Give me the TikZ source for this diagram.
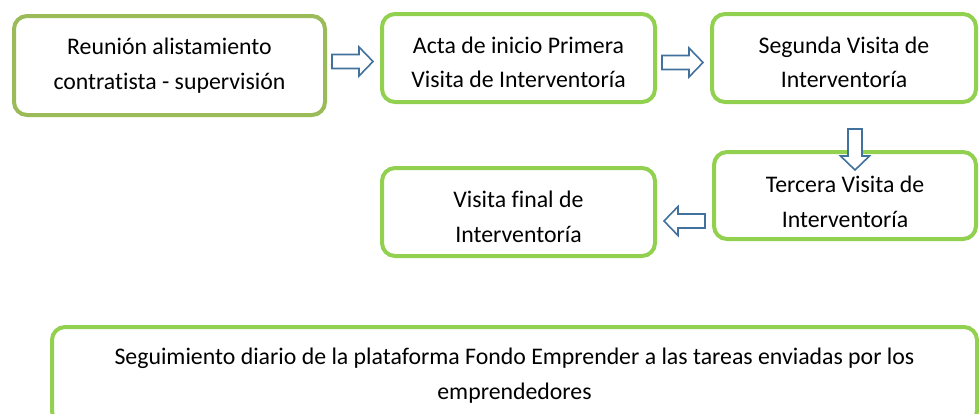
\documentclass[tikz,border=0pt]{standalone}
\usepackage{fontspec}
\setmainfont{Carlito}[Ligatures=NoCommon]
\definecolor{olivegreen}{RGB}{155,187,89}
\definecolor{lightgreen}{RGB}{146,208,80}
\definecolor{arrowblue}{RGB}{65,113,156}
\tikzset{
  stagebox/.style={draw=lightgreen, line width=4pt, rounded corners=13pt, align=center,
    inner sep=0pt, font=\fontsize{23.8}{34.5}\selectfont},
  lowtext/.style={text height=#1, text depth=6pt},
  arrowline/.style={draw=arrowblue, line width=1.6pt, fill=white, line join=miter},
  blockarrow/.pic={
    \draw[arrowline] (0,-7) -- (27,-7) -- (27,-14.5) -- (41,0) -- (27,14.5) -- (27,7) -- (0,7) -- cycle;
  }
}
\begin{document}
\begin{tikzpicture}[x=1pt, y=-1pt]
    \useasboundingbox (0,0) rectangle (979,413);
    \clip (0,0) rectangle (979,413);

    \node[stagebox, draw=olivegreen, minimum width=311pt, minimum height=99pt] (reunion) at (169.5,65.5)
        {Reunión alistamiento\\contratista - supervisión};
    \node[stagebox, lowtext=65pt, minimum width=273pt, minimum height=88pt] (acta) at (518.5,58)
        {Acta de inicio Primera\\Visita de Interventoría};
    \node[stagebox, lowtext=65pt, minimum width=264pt, minimum height=88pt] (segunda) at (844,58)
        {Segunda Visita de\\Interventoría};
    \node[stagebox, lowtext=69pt, minimum width=262pt, minimum height=87pt] (tercera) at (845,195.5)
        {Tercera Visita de\\Interventoría};
    \node[stagebox, lowtext=66pt, minimum width=273pt, minimum height=88pt] (final) at (518.5,212)
        {Visita final de\\Interventoría};
    \node[stagebox, minimum width=925pt, minimum height=97pt] (seguimiento) at (514.5,375.5)
        {Seguimiento diario de la plataforma Fondo Emprender a las tareas enviadas por los\\emprendedores};

    % block arrows between the stages
    \pic at (332,61.5) {blockarrow};
    \pic at (662,62.5) {blockarrow};
    \pic[rotate=-90] at (855,129) {blockarrow};
    \pic[rotate=180] at (705,221) {blockarrow};
\end{tikzpicture}
\end{document}
